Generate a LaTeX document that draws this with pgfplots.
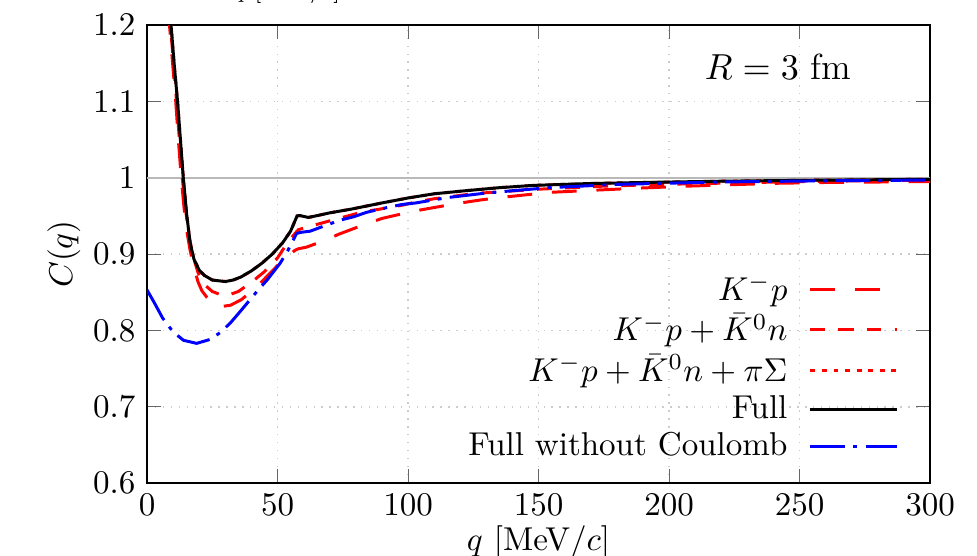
\documentclass[border=0pt]{standalone}
\usepackage{pgfplots}
\pgfplotsset{compat=1.18}

\begin{document}
\begin{tikzpicture}
\useasboundingbox (-44.5pt,-21.8pt) rectangle (251.2pt,146.2pt);
\clip (-44.5pt,-21.8pt) rectangle (251.2pt,146.2pt);
\begin{axis}[
  scale only axis,
  width=237pt, height=138.6pt,
  xmin=0, xmax=300, ymin=0.6, ymax=1.2,
  xtick={0,50,...,300},
  ytick={0.6,0.7,0.8,0.9,1,1.1,1.2},
  tick align=inside,
  major tick style={gray!80!black},
  grid=major,
  major grid style={gray!40, dotted, line width=0.5pt},
  xlabel={$q$ [MeV/$c$]},
  ylabel={$C(q)$},
  xlabel style={yshift=4pt},
  ylabel style={yshift=-3pt},
  legend cell align=right,
  legend plot pos=right,
  legend style={draw=none, fill=none, at={(0.973,0.018)}, anchor=south east,
    row sep=-1.3pt, column sep=4.5pt},
  legend image code/.code={\draw[#1] plot coordinates {(0cm,0cm) (0.45cm,0cm) (0.92cm,0cm)};},
  clip=true,
]
% reference line at C = 1
\addplot[gray!55, line width=0.6pt, forget plot] coordinates {(0,1) (300,1)};

% K^- p only
\addplot[red, line width=0.9pt, dash pattern=on 7.5pt off 6pt] coordinates {
(8.2,1.22) (8.6,1.2) (9.8,1.15) (11,1.1) (12,1.05) (13.1,1.0) (14.2,0.96)
(15.2,0.931) (16.5,0.905) (17.8,0.885) (19.5,0.864) (21,0.852) (23,0.843)
(25.5,0.835) (28,0.831) (32,0.833) (36,0.840) (40,0.851) (44,0.864)
(48,0.878) (52,0.892) (56.7,0.905) (58,0.907) (61,0.909) (65,0.914)
(69,0.919) (73.3,0.9258) (81,0.9358) (90,0.9467) (98,0.953) (102.3,0.9563)
(110,0.961) (119,0.9664) (128,0.971) (137,0.9747) (154,0.9808) (172,0.9838)
(189,0.9865) (207,0.989) (225,0.991) (242,0.9928) (260,0.9938) (280,0.9944)
(300,0.995)};
\addlegendentry{$K^{-}p$}

% K^- p + Kbar^0 n
\addplot[red, line width=0.9pt, dash pattern=on 4.5pt off 4pt] coordinates {
(8.5,1.22) (8.9,1.2) (10.2,1.15) (11.3,1.1) (12.4,1.05) (13.5,1.0) (14.7,0.96)
(16,0.926) (17.5,0.899) (19.5,0.876) (22,0.860) (25,0.851) (28,0.847)
(31,0.846) (35,0.851) (40,0.863) (45,0.877) (50,0.895) (54,0.916)
(56.7,0.927) (58,0.932) (61.7,0.9358) (66.3,0.940) (72,0.9455) (77,0.950)
(82.8,0.9555) (88.5,0.9585) (97.7,0.964) (102.7,0.968) (110,0.9725)
(126,0.9795) (150,0.985) (175,0.989) (200,0.9915) (250,0.995) (300,0.997)};
\addlegendentry{$K^{-}p+\bar{K}^{0}n$}

% K^- p + Kbar^0 n + pi Sigma
\addplot[red, line width=0.9pt, dash pattern=on 1.5pt off 2pt] coordinates {
(8.8,1.22) (9.2,1.2) (10.5,1.145) (11.7,1.1) (12.8,1.05) (13.9,1.0)
(15.2,0.952) (16.5,0.915) (18,0.893) (20,0.879) (22,0.872) (25,0.866)
(30,0.864) (33,0.866) (36,0.870) (40,0.878) (44,0.888) (48,0.900)
(52,0.915) (55,0.930) (57.5,0.950) (58.5,0.9505) (61.8,0.948) (66,0.951)
(70,0.954) (78.4,0.959) (90,0.967) (100,0.9735) (110,0.979) (122,0.983)
(135,0.987) (148,0.990) (170,0.9925) (193,0.994) (220,0.9955) (250,0.9966)
(275,0.9973) (300,0.998)};
\addlegendentry{$K^{-}p+\bar{K}^{0}n+\pi\Sigma$}

% full coupled-channel result
\addplot[black, line width=0.9pt] coordinates {
(8.8,1.22) (9.2,1.2) (10.5,1.145) (11.7,1.1) (12.8,1.05) (13.9,1.0)
(15.2,0.952) (16.5,0.915) (18,0.893) (20,0.879) (22,0.872) (25,0.866)
(30,0.864) (33,0.866) (36,0.870) (40,0.878) (44,0.888) (48,0.900)
(52,0.915) (55,0.930) (57.5,0.950) (58.5,0.9505) (61.8,0.948) (66,0.951)
(70,0.954) (78.4,0.959) (90,0.967) (100,0.9735) (110,0.979) (122,0.983)
(135,0.987) (148,0.990) (170,0.9925) (193,0.994) (220,0.9955) (250,0.9966)
(275,0.9973) (300,0.998)};
\addlegendentry{Full}

% full result, Coulomb switched off
\addplot[blue, line width=0.9pt, dash pattern=on 10.5pt off 2.5pt on 1.2pt off 2.5pt] coordinates {
(0,0.853) (3,0.835) (6,0.816) (10,0.798) (14,0.787) (19,0.783) (24,0.788)
(28,0.797) (32,0.810) (36,0.826) (42,0.8506) (46,0.866) (51,0.888)
(54,0.905) (57.3,0.927) (59,0.9285) (62.5,0.930) (68,0.937) (74,0.9445)
(79.3,0.949) (84,0.9546) (90,0.9595) (97.7,0.965) (103,0.967) (115,0.974)
(128.8,0.9795) (140,0.983) (154,0.987) (180,0.9913) (220,0.9945)
(260,0.996) (300,0.997)};
\addlegendentry{Full without Coulomb}

\node[font=\fontsize{11}{13}\selectfont] at (axis description cs:0.806,0.91) {$R=3$ fm};
\end{axis}
% axis title of the panel above, cut by the frame
\node[anchor=base, font=\fontsize{6}{7}\selectfont] at (42.4pt,146.6pt) {$q$ [MeV/$c$]};
\end{tikzpicture}
\end{document}
